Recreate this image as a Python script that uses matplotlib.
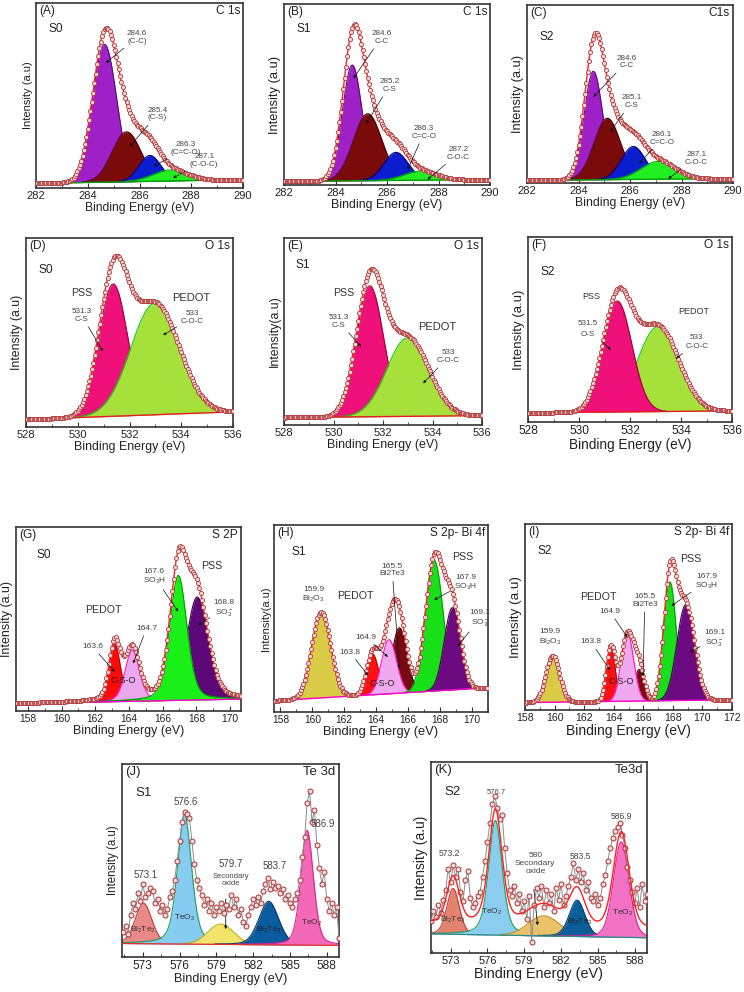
import numpy as np
import matplotlib.pyplot as plt
from matplotlib.ticker import MultipleLocator

plt.rcParams['font.family'] = ['Liberation Sans', 'DejaVu Sans']
plt.rcParams['mathtext.fontset'] = 'custom'
plt.rcParams['mathtext.rm'] = 'Liberation Sans'
plt.rcParams['mathtext.default'] = 'regular'

W, H = 744, 992

# ---- C 1s (A: S0, B: S1, C: S2)  order: C-C, C-S, C=C-O, C-O-C
a_pos = [284.65, 285.5, 286.4, 287.2]
a_amp = [0.745, 0.27, 0.14, 0.06]
a_fwhm = [1.1, 1.3, 1.0, 1.6]
a_base = [0.025, 0.045]

b_pos = [284.65, 285.25, 286.35, 287.3]
b_amp = [0.64, 0.37, 0.155, 0.05]
b_fwhm = [0.9, 1.3, 1.1, 1.5]
b_base = [0.02, 0.03]

c_pos = [284.58, 285.12, 286.13, 287.1]
c_amp = [0.61, 0.345, 0.185, 0.10]
c_fwhm = [0.85, 1.2, 1.1, 1.6]
c_base = [0.015, 0.025]

# ---- O 1s (D, E, F)  order: PSS, PEDOT
d_pos = [531.37, 532.98]
d_amp = [0.70, 0.59]
d_fwhm = [1.3, 2.2]
d_base = [0.04, 0.08]

e_pos = [531.47, 533.0]
e_amp = [0.70, 0.42]
e_fwhm = [1.3, 2.0]
e_base = [0.04, 0.05]

f_pos = [533.1, 531.5]
f_amp = [0.46, 0.60]
f_fwhm = [1.9, 1.35]
f_base = [0.05, 0.06]

# ---- S 2p (G)  order: 163.6, 164.7, SO3-, SO3H
g_pos = [163.16, 164.2, 168.05, 166.93]
g_amp = [0.315, 0.28, 0.56, 0.68]
g_fwhm = [0.8, 1.0, 1.5, 1.2]
g_eta = [0.3, 0.3, 0.3, 0.3]
g_base = [0.04, 0.065]

# ---- S 2p - Bi 4f (H, I)  order: Bi2O3, 163.8, Bi2Te3, 164.9, SO3H, SO3-
h_pos = [160.55, 163.76, 165.45, 164.8, 167.63, 168.77]
h_amp = [0.46, 0.22, 0.35, 0.29, 0.70, 0.44]
h_fwhm = [1.4, 0.9, 1.1, 1.1, 1.3, 1.2]
h_base = [0.06, 0.13]

i_pos = [159.87, 163.8, 165.72, 164.93, 167.8, 168.87]
i_amp = [0.25, 0.295, 0.17, 0.365, 0.64, 0.515]
i_fwhm = [1.1, 0.7, 0.8, 1.0, 1.0, 1.4]
i_base = [0.04, 0.055]

# ---- Te 3d (J, K)  order: Bi2Te3, TeO2, secondary oxide, Bi2Te3, TeO2
j_pos = [573.05, 576.4, 579.35, 583.27, 586.4]
j_amp = [0.21, 0.675, 0.105, 0.225, 0.595]
j_fwhm = [1.6, 1.35, 2.5, 1.9, 1.2]
j_eta = [0.2, 0.4, 0.0, 0.2, 0.3]
j_base = [0.07, 0.06]
j_start = 571.4
j_counts = [0.13, 0.16, 0.12, 0.22, 0.28, 0.25, 0.33, 0.29, 0.38, 0.31,
            0.33, 0.36, 0.34, 0.28, 0.30, 0.24, 0.27, 0.22, 0.25, 0.31,
            0.34, 0.40, 0.50, 0.60, 0.70, 0.75, 0.74, 0.72, 0.60, 0.48,
            0.40, 0.36, 0.32, 0.27, 0.30, 0.24, 0.28, 0.22, 0.26, 0.24,
            0.28, 0.23, 0.27, 0.25, 0.32, 0.26, 0.30, 0.22, 0.25, 0.18,
            0.16, 0.22, 0.26, 0.30, 0.27, 0.31, 0.28, 0.34, 0.38, 0.41,
            0.35, 0.39, 0.36, 0.37, 0.33, 0.35, 0.30, 0.32, 0.28, 0.26,
            0.30, 0.33, 0.40, 0.52, 0.62, 0.80, 0.86, 0.70, 0.76, 0.58,
            0.46, 0.38, 0.44, 0.30, 0.24, 0.28, 0.22, 0.26, 0.10]

k_pos = [573.2, 576.65, 580.6, 583.3, 586.9]
k_amp = [0.24, 0.60, 0.105, 0.19, 0.50]
k_fwhm = [1.2, 1.3, 3.0, 1.5, 1.5]
k_eta = [0.2, 0.4, 0.0, 0.2, 0.2]
k_base = [0.10, 0.08]
k_fit_base = [0.16, 0.13]
k_start = 571.4
k_counts = [0.17, 0.22, 0.19, 0.25, 0.21, 0.28, 0.33, 0.44, 0.37, 0.46,
            0.40, 0.44, 0.32, 0.27, 0.38, 0.43, 0.29, 0.24, 0.26, 0.30,
            0.32, 0.40, 0.48, 0.58, 0.68, 0.78, 0.82, 0.76, 0.70, 0.72,
            0.55, 0.42, 0.33, 0.30, 0.35, 0.26, 0.31, 0.22, 0.27, 0.18,
            0.30, 0.06, 0.25, 0.34, 0.29, 0.35, 0.24, 0.33, 0.26, 0.31,
            0.22, 0.34, 0.28, 0.36, 0.25, 0.30, 0.35, 0.40, 0.47, 0.38,
            0.44, 0.37, 0.42, 0.33, 0.37, 0.29, 0.27, 0.31, 0.25, 0.29,
            0.36, 0.41, 0.48, 0.55, 0.60, 0.64, 0.66, 0.68, 0.62, 0.55,
            0.45, 0.38, 0.32, 0.26, 0.34, 0.24, 0.36, 0.27, 0.31]

C1S_FILL = ['#A020C8', '#7B0A0A', '#0A1ECF', '#22EE22']
C1S_EDGE = ['#5A0A7A', '#4A0000', '#000080', '#00B000']
PSS_C, PSS_E = '#F0107A', '#A0003A'
PED_C, PED_E = '#A6E03A', '#10CC10'
S2P_FILL = ['#D9CB45', '#FF1010', '#780A14', '#F0A8EE', '#18E018', '#6C0A82']
S2P_EDGE = ['#A09020', '#C00000', '#400000', '#FF10C0', '#00A000', '#400050']
MEC, MFC = '#B03A3A', '#F6D6D6'


def peak(x, c, h, w, eta=0.0):
    g = np.exp(-4 * np.log(2) * (x - c) ** 2 / w ** 2)
    l = 1.0 / (1.0 + 4 * (x - c) ** 2 / w ** 2)
    return h * ((1 - eta) * g + eta * l)


def make_ax(fig, box):
    l, t, r, b = box
    return fig.add_axes([l / W, 1 - b / H, (r - l) / W, (b - t) / H])


def style(ax, xlim, major, minor, tfs, xfs, yfs, ylab='Intensity (a.u)'):
    ax.set_xlim(xlim)
    ax.set_ylim(0, 1)
    ax.set_yticks([])
    ax.set_xticks(major)
    ax.xaxis.set_minor_locator(MultipleLocator(minor))
    ax.tick_params(axis='x', which='both', direction='in', labelsize=tfs,
                   pad=2, color='#333333', labelcolor='#222222')
    ax.tick_params(axis='x', which='major', length=3.5, width=0.8)
    ax.tick_params(axis='x', which='minor', length=2, width=0.6)
    for s in ax.spines.values():
        s.set_linewidth(1.2)
        s.set_color('#333333')
    ax.set_xlabel('Binding Energy (eV)', fontsize=xfs, labelpad=1, color='#222222')
    ax.set_ylabel(ylab, fontsize=yfs, labelpad=2, color='#222222')


def corner(ax, tag, title, sample, fs=8.6, sy=0.86, sx=0.06):
    ax.text(0.015, 0.99, tag, transform=ax.transAxes, ha='left', va='top',
            fontsize=fs, color='#222222')
    ax.text(0.985, 0.99, title, transform=ax.transAxes, ha='right', va='top',
            fontsize=fs, color='#222222')
    ax.text(sx, sy, sample, transform=ax.transAxes, ha='left', va='center',
            fontsize=fs, color='#222222')


def note(ax, s, xyt, xya=None, fs=5.8, color='#444444', ls=1.15):
    if xya is None:
        ax.text(xyt[0], xyt[1], s, ha='center', va='center', fontsize=fs,
                color=color, linespacing=ls, zorder=6)
    else:
        ax.annotate(s, xy=xya, xytext=xyt, ha='center', va='center',
                    fontsize=fs, color=color, linespacing=ls, zorder=6,
                    arrowprops=dict(arrowstyle='-|>', color='#111111', lw=0.5,
                                    mutation_scale=4, shrinkA=1, shrinkB=0))


def components(ax, x, bg, pos, amp, fwhm, fills, edges, eta=None):
    total = bg.copy()
    for i in range(len(pos)):
        e = 0.0 if eta is None else eta[i]
        y = peak(x, pos[i], amp[i], fwhm[i], e)
        ax.fill_between(x, bg, bg + y, color=fills[i], lw=0, zorder=2 + i * 0.01)
        edge = np.where(y > 2e-3, bg + y, np.nan)
        ax.plot(x, edge, color=edges[i], lw=0.8, zorder=2.005 + i * 0.01)
        total = total + y
    return total


def spectrum(ax, xlim, pos, amp, fwhm, base, fills, edges, step, bgc, eta=None):
    x = np.arange(xlim[0], xlim[1] + step / 2, step)
    bg = base[0] + (base[1] - base[0]) * (x - xlim[0]) / (xlim[1] - xlim[0])
    total = components(ax, x, bg, pos, amp, fwhm, fills, edges, eta)
    ax.plot(x, bg, color=bgc, lw=1.0, zorder=3)
    ax.plot(x, total, color='#FF2020', lw=1.0, zorder=4)
    ax.plot(x, total, 'o', ms=3.0, mec=MEC, mfc=MFC, mew=0.6, zorder=5)


fig = plt.figure(figsize=(W / 100, H / 100), dpi=100)

# ---------------- (A)
ax = make_ax(fig, (36, 3, 243, 188))
spectrum(ax, (282, 290), a_pos, a_amp, a_fwhm, a_base, C1S_FILL, C1S_EDGE, 0.05, '#00A000')
style(ax, (282, 290), [282, 284, 286, 288, 290], 1, 8, 8.7, 8)
corner(ax, '(A)', 'C 1s', 'S0')
note(ax, '284.6\n(C-C)', (285.9, 0.815), (284.70, 0.676))
note(ax, '285.4\n(C-S)', (286.7, 0.40), (285.63, 0.225))
note(ax, '286.3\n(C=C-O)', (287.8, 0.215), (286.55, 0.117))
note(ax, '287.1\n(C-O-C)', (288.5, 0.148), (287.3, 0.054))

# ---------------- (B)
ax = make_ax(fig, (284, 4, 490, 185))
spectrum(ax, (282, 290), b_pos, b_amp, b_fwhm, b_base, C1S_FILL, C1S_EDGE, 0.05, '#00A000')
style(ax, (282, 290), [282, 284, 286, 288, 290], 1, 8, 8.9, 9.3)
corner(ax, '(B)', 'C 1s', 'S1')
note(ax, '284.6\nC-C', (285.78, 0.815), (284.70, 0.59))
note(ax, '285.2\nC-S', (286.1, 0.55), (285.2, 0.34))
note(ax, '286.3\nC=C-O', (287.44, 0.29), (286.8, 0.083))
note(ax, '287.2\nC-O-C', (288.78, 0.175), (287.57, 0.03))

# ---------------- (C)
ax = make_ax(fig, (527, 5, 733, 183))
spectrum(ax, (282, 290), c_pos, c_amp, c_fwhm, c_base, C1S_FILL, C1S_EDGE, 0.05, '#00A000')
style(ax, (282, 290), [282, 284, 286, 288, 290], 1, 8, 8.8, 9.3)
corner(ax, '(C)', 'C1s', 'S2', sy=0.82)
note(ax, '284.6\nC-C', (285.87, 0.68), (284.58, 0.484))
note(ax, '285.1\nC-S', (286.06, 0.456), (285.23, 0.287))
note(ax, '286.1\nC=C-O', (287.23, 0.25), (286.36, 0.109))
note(ax, '287.1\nC-O-C', (288.58, 0.137), (287.48, 0.024))

# ---------------- (D)
ax = make_ax(fig, (26, 238, 233, 427))
spectrum(ax, (528, 536), d_pos, d_amp, d_fwhm, d_base, [PSS_C, PED_C], [PSS_E, PED_E], 0.05, '#E02020')
style(ax, (528, 536), [528, 530, 532, 534, 536], 1, 8, 8.9, 8.9)
corner(ax, '(D)', 'O 1s', 'S0', sy=0.83)
note(ax, 'PSS', (530.15, 0.707), fs=7.6, color='#333333')
note(ax, '531.3\nC-S', (530.15, 0.59), (530.98, 0.40))
note(ax, 'PEDOT', (534.39, 0.685), fs=8, color='#333333')
note(ax, '533\nC-O-C', (534.43, 0.58), (533.3, 0.486))

# ---------------- (E)
ax = make_ax(fig, (284, 238, 482, 425))
spectrum(ax, (528, 536), e_pos, e_amp, e_fwhm, e_base, [PSS_C, PED_C], [PSS_E, PED_E], 0.05, '#E02020')
style(ax, (528, 536), [528, 530, 532, 534, 536], 1, 8, 8.9, 8.9, ylab='Intensity(a.u)')
corner(ax, '(E)', 'O 1s', 'S1', sy=0.855)
note(ax, 'PSS', (530.43, 0.708), fs=7.6, color='#333333')
note(ax, '531.3\nC-S', (530.21, 0.553), (531.11, 0.419))
note(ax, 'PEDOT', (534.2, 0.522), fs=8, color='#333333')
note(ax, '533\nC-O-C', (534.65, 0.365), (533.62, 0.223))

# ---------------- (F)
ax = make_ax(fig, (528, 237, 732, 422))
spectrum(ax, (528, 536), f_pos, f_amp, f_fwhm, f_base, [PED_C, PSS_C], [PED_E, PSS_E], 0.05, '#E02020')
style(ax, (528, 536), [528, 530, 532, 534, 536], 1, 8.6, 9.8, 9.5)
corner(ax, '(F)', 'O 1s', 'S2', sy=0.81)
note(ax, 'PSS', (530.49, 0.68), fs=6.5, color='#333333')
note(ax, '531.5\nO-S', (530.36, 0.505), (531.25, 0.39), ls=1.8)
note(ax, 'PEDOT', (534.49, 0.595), fs=6.5, color='#333333')
note(ax, '533\nC-O-C', (534.62, 0.433), (533.81, 0.343), ls=1.4)

# ---------------- (G)
ax = make_ax(fig, (16, 527, 241, 711))
spectrum(ax, (157.3, 170.65), g_pos, g_amp, g_fwhm, g_base,
         ['#FF0A0A', '#EBA8EE', '#5C0878', '#18F018'],
         ['#C00000', '#FF10C0', '#3A0050', '#00A000'], 0.08, '#FF00CC', g_eta)
style(ax, (157.3, 170.65), list(range(158, 171, 2)), 1, 7.4, 8.9, 9)
corner(ax, '(G)', 'S 2P', 'S0', sy=0.85, sx=0.09)
note(ax, 'PEDOT', (162.46, 0.55), fs=7.7, color='#333333')
note(ax, '163.6', (161.83, 0.35), (163.16, 0.213), fs=6)
note(ax, '164.7', (165.04, 0.45), (164.25, 0.258), fs=6)
note(ax, 'C-S-O', (163.65, 0.167), fs=6.5, color='#222222')
note(ax, '167.6\nSO$_3$H', (165.5, 0.73), (166.93, 0.54), fs=6)
note(ax, 'PSS', (168.9, 0.79), fs=7.7, color='#333333')
note(ax, '168.8\nSO$_3^-$', (169.65, 0.558), (168.12, 0.467), fs=6)

# ---------------- (H)
ax = make_ax(fig, (274, 525, 488, 712))
spectrum(ax, (157.6, 171.0), h_pos, h_amp, h_fwhm, h_base, S2P_FILL, S2P_EDGE, 0.08, '#FF00CC')
style(ax, (157.6, 171.0), list(range(158, 171, 2)), 1, 7.4, 9.3, 8, ylab='Intensity(a.u)')
corner(ax, '(H)', 'S 2p- Bi 4f', 'S1', sy=0.857, sx=0.08)
note(ax, '159.9\nBi$_2$O$_3$', (160.07, 0.625), fs=6)
note(ax, 'PEDOT', (162.72, 0.62), fs=7.7, color='#333333')
note(ax, '165.5\nBi2Te3', (165.0, 0.76), (165.45, 0.232), fs=6)
note(ax, '164.9', (163.34, 0.40), (164.73, 0.295), fs=6)
note(ax, '163.8', (162.35, 0.32), (163.49, 0.196), fs=6)
note(ax, 'C-S-O', (164.38, 0.155), fs=6.5, color='#222222')
note(ax, 'PSS', (169.43, 0.83), fs=7.7, color='#333333')
note(ax, '167.9\nSO$_3$H', (169.6, 0.69), (167.63, 0.6), fs=6)
note(ax, '169.1\nSO$_3^-$', (170.5, 0.5), (169.08, 0.35), fs=6)

# ---------------- (I)
ax = make_ax(fig, (525, 524, 732, 710))
spectrum(ax, (158, 172), i_pos, i_amp, i_fwhm, i_base, S2P_FILL, S2P_EDGE, 0.08, '#FF00CC')
style(ax, (158, 172), list(range(158, 173, 2)), 1, 7.6, 10, 9.7)
corner(ax, '(I)', 'S 2p- Bi 4f', 'S2', sy=0.857)
note(ax, '159.9\nBi$_2$O$_3$', (159.69, 0.39), fs=6)
note(ax, 'PEDOT', (162.95, 0.61), fs=7.7, color='#333333')
note(ax, '163.8', (162.46, 0.367), (163.74, 0.215), fs=6)
note(ax, '164.9', (163.74, 0.53), (164.93, 0.39), fs=6)
note(ax, '165.5\nBi2Te3', (166.1, 0.59), (165.99, 0.18), fs=6)
note(ax, 'C-S-O', (164.53, 0.152), fs=6.5, color='#222222')
note(ax, 'PSS', (169.19, 0.81), fs=7.7, color='#333333')
note(ax, '167.9\nSO$_3$H', (170.27, 0.69), (167.9, 0.56), fs=6)
note(ax, '169.1\nSO$_3^-$', (170.83, 0.385), (169.14, 0.31), fs=6)

# ---------------- (J)
ax = make_ax(fig, (122, 764, 339, 957))
xlim = (571.3, 589.0)
x = np.arange(xlim[0], xlim[1] + 0.025, 0.05)
bg = j_base[0] + (j_base[1] - j_base[0]) * (x - xlim[0]) / (xlim[1] - xlim[0])
components(ax, x, bg, j_pos, j_amp, j_fwhm,
           ['#E98A88', '#86CCF2', '#F2E46A', '#0B5C9E', '#F468B8'],
           ['#C04040', '#20A060', '#C0B020', '#063A70', '#E02090'], j_eta)
ax.plot(x, bg, color='#E03030', lw=0.9, zorder=3)
jx = j_start + 0.2 * np.arange(len(j_counts))
ax.plot(jx, j_counts, '-', color='#8A8A8A', lw=0.7, zorder=4)
ax.plot(jx, j_counts, 'o', ms=3.6, mec='#A83232', mfc='#F4DCDC', mew=0.7, zorder=5)
style(ax, xlim, [573, 576, 579, 582, 585, 588], 1.5, 8.6, 9.1, 8.3)
corner(ax, '(J)', 'Te 3d', 'S1', fs=9.5, sy=0.848)
note(ax, '576.6', (576.51, 0.804), fs=7)
note(ax, '573.1', (573.19, 0.424), fs=7)
note(ax, '579.7', (580.16, 0.484), fs=7)
note(ax, 'Secondary\noxide', (580.16, 0.40), fs=5.5, ls=1.1)
ax.annotate('', xy=(579.76, 0.13), xytext=(579.76, 0.315),
            arrowprops=dict(arrowstyle='-|>', color='#111111', lw=0.6, mutation_scale=4))
note(ax, '583.7', (583.76, 0.47), fs=7)
note(ax, '586.9', (587.7, 0.69), fs=7)
note(ax, 'Bi$_2$Te$_3$', (573.0, 0.138), fs=6, color='#333333')
note(ax, 'TeO$_2$', (576.38, 0.204), fs=6, color='#333333')
note(ax, 'Bi$_2$Te$_3$', (583.27, 0.138), fs=6, color='#222222')
note(ax, 'TeO$_2$', (586.78, 0.176), fs=6, color='#333333')

# ---------------- (K)
ax = make_ax(fig, (431, 762, 647, 953))
xlim = (571.4, 589.0)
x = np.arange(xlim[0], xlim[1] + 0.025, 0.05)
bg = k_base[0] + (k_base[1] - k_base[0]) * (x - xlim[0]) / (xlim[1] - xlim[0])
fit_bg = k_fit_base[0] + (k_fit_base[1] - k_fit_base[0]) * (x - xlim[0]) / (xlim[1] - xlim[0])
total = components(ax, x, bg, k_pos, k_amp, k_fwhm,
                   ['#E3836F', '#8ACDEE', '#E9C26A', '#0A5E9A', '#F472C6'],
                   ['#C04040', '#20A060', '#C09020', '#063A70', '#E02090'], k_eta)
ax.plot(x, bg, color='#2A8A8A', lw=0.9, zorder=3)
kx = k_start + 0.2 * np.arange(len(k_counts))
ax.plot(kx, k_counts, '-', color='#8A8A8A', lw=0.7, zorder=4)
ax.plot(kx, k_counts, 'o', ms=3.6, mec='#A83232', mfc='#F4DCDC', mew=0.7, zorder=5)
ax.plot(x, total - bg + fit_bg, color='#FF2020', lw=1.0, zorder=5.5)
style(ax, xlim, [573, 576, 579, 582, 585, 588], 1.5, 8, 10.4, 10)
corner(ax, '(K)', 'Te3d', 'S2', fs=9.5, sy=0.843)
note(ax, '576.7', (576.73, 0.838), fs=5.5)
note(ax, '573.2', (572.86, 0.52), fs=6.2)
note(ax, '580\nSecondary\noxide', (579.9, 0.466), fs=6, ls=1.2)
ax.annotate('', xy=(580.11, 0.13), xytext=(579.76, 0.348),
            arrowprops=dict(arrowstyle='-|>', color='#111111', lw=0.6, mutation_scale=4))
note(ax, '583.5', (583.59, 0.504), fs=6.2)
note(ax, '586.9', (586.92, 0.717), fs=6.2)
note(ax, 'Bi$_2$Te$_3$', (573.22, 0.174), fs=6, color='#333333')
note(ax, 'TeO$_2$', (576.38, 0.217), fs=6, color='#333333')
note(ax, 'Bi$_2$Te$_3$', (583.54, 0.165), fs=6, color='#222222')
note(ax, 'TeO$_2$', (587.0, 0.212), fs=6, color='#333333')

fig.savefig('out.png', dpi=100)
